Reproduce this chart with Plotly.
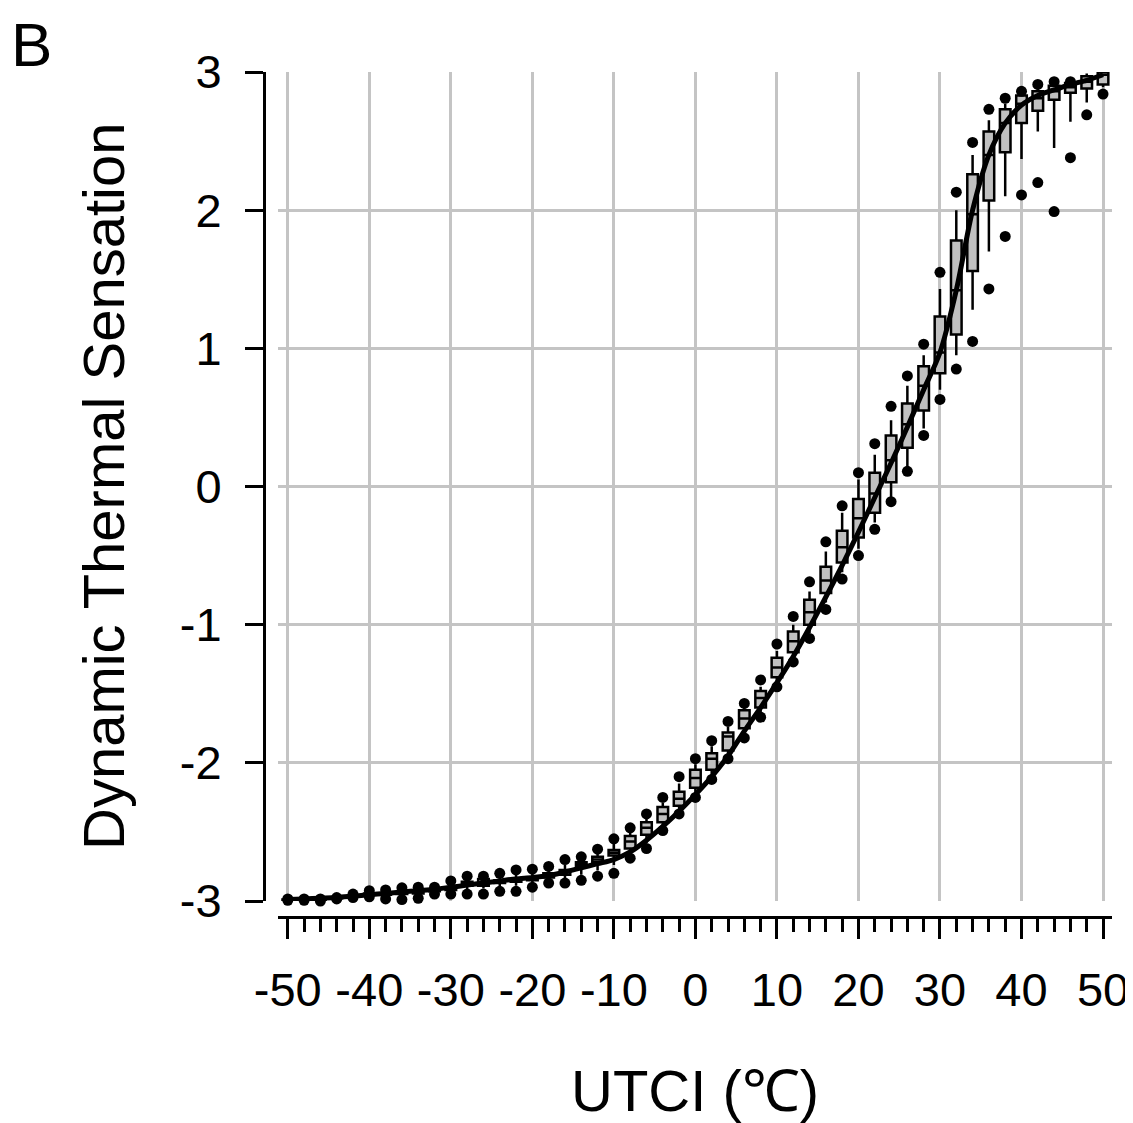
import plotly.graph_objects as go

# UTCI bins (°C)
utci = list(range(-50, 51, 2))

# box statistics (Dynamic Thermal Sensation)
out_lo = [-2.995, -2.995, -3.0, -2.985, -2.975, -2.97, -2.985, -2.99, -2.98, -2.95,
          -2.95, -2.95, -2.95, -2.93, -2.93, -2.9, -2.87, -2.87, -2.85, -2.82,
          -2.80, -2.69, -2.62, -2.49, -2.37, -2.25, -2.12, -1.97, -1.82, -1.67,
          -1.45, -1.27, -1.10, -0.89, -0.67, -0.50, -0.31, -0.11, 0.11, 0.37,
          0.63, 0.85, 1.05, 1.43, 1.81, 2.11, 2.20, 1.99, 2.38, 2.69, 2.84]
wlo = [-2.993, -2.993, -2.995, -2.983, -2.97, -2.96, -2.965, -2.96, -2.955, -2.94,
       -2.935, -2.92, -2.91, -2.90, -2.89, -2.87, -2.85, -2.84, -2.81, -2.78,
       -2.74, -2.66, -2.58, -2.46, -2.34, -2.22, -2.08, -1.94, -1.79, -1.64,
       -1.42, -1.24, -1.06, -0.84, -0.62, -0.45, -0.26, -0.08, 0.14, 0.42,
       0.70, 0.95, 1.28, 1.70, 2.10, 2.37, 2.57, 2.45, 2.64, 2.78, 2.89]
q1 = [-2.991, -2.991, -2.993, -2.981, -2.965, -2.955, -2.955, -2.95, -2.945, -2.93,
      -2.92, -2.89, -2.89, -2.87, -2.86, -2.85, -2.83, -2.81, -2.75, -2.72,
      -2.67, -2.62, -2.52, -2.43, -2.31, -2.18, -2.05, -1.91, -1.75, -1.60,
      -1.38, -1.20, -1.00, -0.77, -0.55, -0.37, -0.19, 0.03, 0.28, 0.55,
      0.82, 1.10, 1.56, 2.07, 2.42, 2.63, 2.72, 2.80, 2.85, 2.88, 2.91]
med = [-2.99, -2.99, -2.992, -2.98, -2.962, -2.95, -2.95, -2.94, -2.935, -2.925,
       -2.91, -2.875, -2.87, -2.86, -2.85, -2.84, -2.815, -2.79, -2.735, -2.70,
       -2.65, -2.57, -2.47, -2.37, -2.26, -2.11, -1.97, -1.81, -1.68, -1.53,
       -1.31, -1.12, -0.91, -0.68, -0.44, -0.23, -0.05, 0.19, 0.45, 0.73,
       0.97, 1.42, 1.97, 2.40, 2.63, 2.77, 2.81, 2.86, 2.89, 2.93, 2.98]
q3 = [-2.989, -2.989, -2.99, -2.979, -2.96, -2.945, -2.945, -2.935, -2.93, -2.92,
      -2.90, -2.86, -2.84, -2.85, -2.84, -2.83, -2.80, -2.775, -2.72, -2.68,
      -2.63, -2.53, -2.43, -2.32, -2.21, -2.05, -1.93, -1.78, -1.62, -1.48,
      -1.24, -1.05, -0.82, -0.58, -0.32, -0.09, 0.10, 0.37, 0.60, 0.87,
      1.23, 1.78, 2.26, 2.57, 2.73, 2.83, 2.86, 2.90, 2.92, 2.97, 3.0]
whi = [-2.988, -2.988, -2.988, -2.977, -2.955, -2.935, -2.935, -2.92, -2.915, -2.91,
       -2.88, -2.84, -2.83, -2.83, -2.81, -2.80, -2.78, -2.74, -2.70, -2.65,
       -2.58, -2.50, -2.40, -2.29, -2.15, -2.01, -1.88, -1.74, -1.60, -1.45,
       -1.19, -1.00, -0.76, -0.47, -0.19, 0.05, 0.23, 0.48, 0.73, 0.95,
       1.43, 2.00, 2.40, 2.65, 2.77, 2.85, 2.89, 2.92, 2.93, 2.99, 3.0]
out_hi = [-2.985, -2.985, -2.985, -2.975, -2.95, -2.925, -2.92, -2.905, -2.90, -2.90,
          -2.855, -2.82, -2.82, -2.80, -2.775, -2.77, -2.75, -2.70, -2.68, -2.625,
          -2.55, -2.47, -2.37, -2.25, -2.10, -1.97, -1.84, -1.70, -1.57, -1.40,
          -1.14, -0.94, -0.69, -0.40, -0.14, 0.10, 0.31, 0.58, 0.80, 1.03,
          1.55, 2.13, 2.49, 2.73, 2.81, 2.86, 2.91, 2.93, 2.93, 3.01, 3.01]

# fitted curve
curve = [-2.99, -2.985, -2.98, -2.975, -2.965, -2.955, -2.945, -2.935, -2.925, -2.915,
         -2.90, -2.885, -2.87, -2.855, -2.84, -2.83, -2.815, -2.79, -2.76, -2.73,
         -2.70, -2.645, -2.56, -2.46, -2.35, -2.23, -2.10, -1.95, -1.77, -1.60,
         -1.42, -1.23, -1.02, -0.80, -0.57, -0.33, -0.08, 0.17, 0.43, 0.70,
         0.97, 1.42, 2.00, 2.40, 2.63, 2.76, 2.83, 2.87, 2.91, 2.94, 2.98]

x_ticks = list(range(-50, 51, 10))
y_ticks = [-3, -2, -1, 0, 1, 2, 3]

FONT = "Liberation Sans, Arial, Helvetica, sans-serif"
OFF = 8  # page body margin of the written html
W, H = 1133 - OFF, 1123 - OFF
# target page pixels: paper left 264, right 1112, top 72, bottom 917
ML, MT = 264 - OFF, 72 - OFF
MR = W - (1112 - OFF)
MB = H - (917 - OFF)
PW, PH = W - ML - MR, H - MT - MB


def px(xp):
    return (xp - 264) / PW


def py(yp):
    return (917 - yp) / PH


fig = go.Figure()

fig.add_trace(go.Box(
    x=utci, q1=q1, median=med, q3=q3, lowerfence=wlo, upperfence=whi,
    width=1.3, whiskerwidth=0, boxpoints=False,
    fillcolor="#c0c0c0", line=dict(color="black", width=2.5),
    showlegend=False, hoverinfo="skip",
))

fig.add_trace(go.Scatter(
    x=utci + utci, y=out_lo + out_hi, mode="markers",
    marker=dict(color="black", size=11), cliponaxis=False,
    showlegend=False, hoverinfo="skip",
))

fig.add_trace(go.Scatter(
    x=utci, y=curve, mode="lines", line=dict(color="black", width=5, shape="spline", smoothing=0.8),
    cliponaxis=False, showlegend=False, hoverinfo="skip",
))

fig.update_layout(
    width=W, height=H,
    margin=dict(l=ML, r=MR, t=MT, b=MB, autoexpand=False),
    paper_bgcolor="white", plot_bgcolor="white",
    font=dict(family=FONT, color="black"),
    hovermode=False,
    xaxis=dict(
        domain=[14 / PW, 1], anchor="free", position=0, automargin=False,
        range=[-51.2, 51.1], tickvals=x_ticks, ticktext=[str(v) for v in x_ticks],
        showgrid=True, gridcolor="#c4c4c4", gridwidth=3, zeroline=False,
        showline=True, linecolor="black", linewidth=3,
        ticks="outside", ticklen=20, tickwidth=3, tickcolor="black",
        tickfont=dict(size=47, family=FONT, color="black"), ticklabelstandoff=11,
        minor=dict(dtick=2, tick0=0, ticks="outside", ticklen=13, tickwidth=3,
                   tickcolor="black", showgrid=False),
    ),
    yaxis=dict(
        domain=[16 / PH, 1], anchor="free", position=0, automargin=False,
        range=[-3, 3], tickvals=y_ticks, ticktext=[str(v) for v in y_ticks],
        showgrid=True, gridcolor="#c4c4c4", gridwidth=3, zeroline=False,
        showline=True, linecolor="black", linewidth=3,
        ticks="outside", ticklen=18, tickwidth=3, tickcolor="black",
        tickfont=dict(size=47, family=FONT, color="black"), ticklabelstandoff=14,
    ),
    annotations=[
        dict(text="UTCI (℃)", xref="paper", yref="paper",
             x=px(695), y=py(1090), xanchor="center", yanchor="middle",
             showarrow=False, font=dict(size=58, family=FONT, color="black")),
        dict(text="Dynamic Thermal Sensation", xref="paper", yref="paper",
             x=px(104), y=py(487), xanchor="center", yanchor="middle",
             textangle=-90, showarrow=False, font=dict(size=58, family=FONT, color="black")),
        dict(text="B", xref="paper", yref="paper",
             x=px(10), y=py(9), xanchor="left", yanchor="top", borderpad=0,
             showarrow=False, font=dict(size=62, family=FONT, color="black")),
    ],
)

fig.write_html("out.html")
